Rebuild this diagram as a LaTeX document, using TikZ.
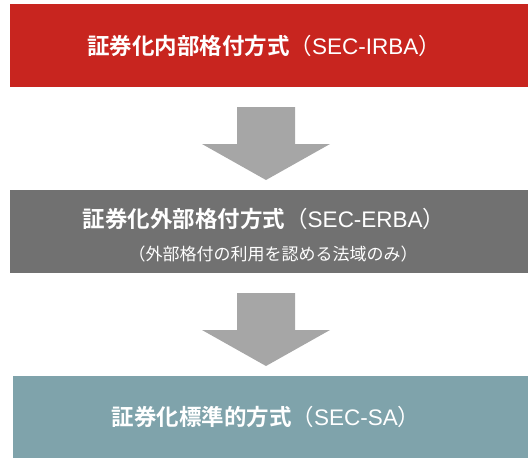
\documentclass[tikz,border=0pt]{standalone}
\usepackage{fontspec}
\newfontfamily\jpb{Noto Sans CJK JP Bold}
\newfontfamily\jpr{Noto Sans CJK JP}
\newfontfamily\lat{Liberation Sans}
\definecolor{boxred}{HTML}{C8251F}
\definecolor{boxgray}{HTML}{717171}
\definecolor{boxteal}{HTML}{7FA3AB}
\definecolor{arrgray}{HTML}{A6A6A6}
\tikzset{
  stage/.style={anchor=north west, inner sep=0pt, minimum width=518pt, minimum height=83pt, fill=#1},
  title/.style={text=white, font=\fontsize{22.5}{26}\selectfont, inner sep=0pt},
  sub/.style={text=white, font=\jpr\fontsize{17}{20}\selectfont, inner sep=0pt},
  blockarrow/.style={fill=arrgray, draw=none}
}
\begin{document}
\begin{tikzpicture}[x=1pt,y=-1pt]
\useasboundingbox (0,0) rectangle (528,458);
\node[stage=boxred] (b1) at (10,4) {};
\node[stage=boxgray, minimum height=83pt] (b2) at (10,190) {};
\node[stage=boxteal, minimum width=515pt, minimum height=82pt] (b3) at (13,376) {};
\node[title] (t1) at (264,46) {{\jpb 証券化内部格付方式}{\jpr （}{\lat SEC-IRBA}{\jpr ）}};
\node[title] (t2) at (264,219) {{\jpb 証券化外部格付方式}{\jpr （}{\lat SEC-ERBA}{\jpr ）}};
\node[sub] (s2) at (273,254) {（外部格付の利用を認める法域のみ）};
\node[title] (t3) at (266,417) {{\jpb 証券化標準的方式}{\jpr （}{\lat SEC-SA}{\jpr ）}};
\fill[blockarrow] (237,107) -- (295,107) -- (295,144) -- (330,144) -- (266,180) -- (202,144) -- (237,144) -- cycle;
\fill[blockarrow] (237,293) -- (295,293) -- (295,330) -- (330,330) -- (266,366) -- (202,330) -- (237,330) -- cycle;
\end{tikzpicture}
\end{document}
